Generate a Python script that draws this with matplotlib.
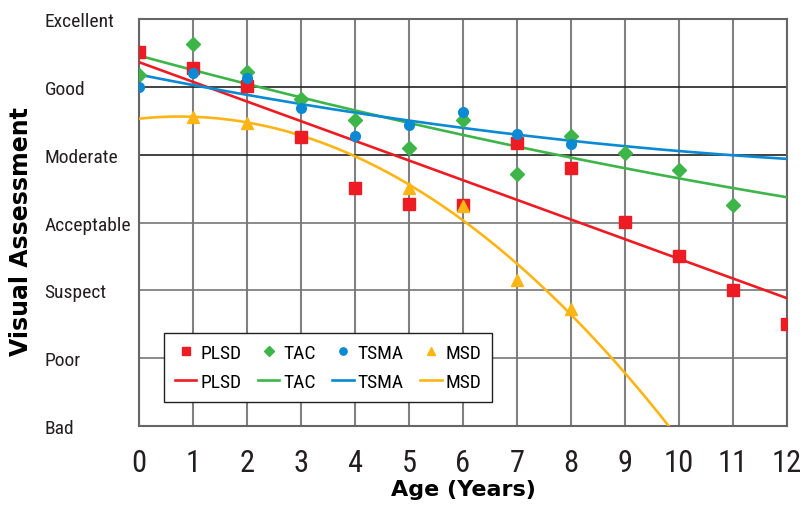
import numpy as np
from matplotlib import pyplot as plt
from matplotlib import font_manager

# ages (years) for each series
plsd_age = [0, 1, 2, 3, 4, 5, 6, 7, 8, 9, 10, 11, 12]
plsd_score = [5.52, 5.28, 5.01, 4.26, 3.51, 3.27, 3.26, 4.17, 3.81, 3.01, 2.51, 2.00, 1.50]

tac_age = [0, 1, 2, 3, 4, 5, 6, 7, 8, 9, 10, 11]
tac_score = [5.18, 5.63, 5.22, 4.82, 4.51, 4.10, 4.51, 3.72, 4.28, 4.03, 3.78, 3.26]

tsma_age = [0, 1, 2, 3, 4, 5, 6, 7, 8]
tsma_score = [5.00, 5.21, 5.13, 4.69, 4.28, 4.44, 4.63, 4.31, 4.16]

msd_age = [1, 2, 5, 6, 7, 8]
msd_score = [4.56, 4.47, 3.51, 3.24, 2.15, 1.73]

grades = ["Bad", "Poor", "Suspect", "Acceptable", "Moderate", "Good", "Excellent"]
ages = list(range(13))

# look for a condensed face, fall back to plain DejaVu
names = set(f.name for f in font_manager.fontManager.ttflist)
narrow_list = [n for n in ['Liberation Sans Narrow', 'Roboto Condensed', 'DejaVu Sans Condensed',
                           'Open Sans Condensed'] if n in names]
narrow = narrow_list + ['DejaVu Sans']

series = [
    ("PLSD", plsd_age, plsd_score, "#ED1C24", "s", 8, 1),
    ("TAC", tac_age, tac_score, "#3DB549", "D", 7, 2),
    ("TSMA", tsma_age, tsma_score, "#0A8AD2", "o", 7, 2),
    ("MSD", msd_age, msd_score, "#FDB515", "^", 8, 2),
]

fig = plt.figure(figsize=(8.11, 5.06), dpi=100)
ax = fig.add_axes([0.1714, 0.1561, 0.7990, 0.8044])

xx = np.linspace(0, 12, 300)
handles = []
for name, x, y, col, mk, ms, deg in series:
    # trend lines like the excel ones
    coef = np.polyfit(x, y, deg)
    ln, = ax.plot(xx, np.polyval(coef, xx), color=col, lw=1.9, zorder=3, label=name)
    pt, = ax.plot(x, y, ls='none', marker=mk, color=col, ms=ms, zorder=4, label=name)
    handles += [pt, ln]

ax.set_xlim(0, 12)
ax.set_ylim(0, 6)
ax.set_xticks(ages)
ax.set_yticks(range(len(grades)))
ax.set_yticklabels(grades)

for xv in ages:
    ax.axvline(xv, color='#808080', lw=1.5, zorder=1)
for yv in range(len(grades)):
    c = '#222222' if grades[yv] in ("Good", "Moderate") else '#777777'
    ax.axhline(yv, color=c, lw=1.2, zorder=1)
for s in ax.spines.values():
    s.set_color('#666666')
    s.set_linewidth(1.5)

ax.tick_params(axis='both', length=0)
ax.tick_params(axis='x', pad=16)
ax.tick_params(axis='y', pad=68)
for t in ax.get_xticklabels():
    t.set_family(narrow)
    t.set_stretch('condensed')
    t.set_fontsize(22)
    t.set_color('#231F20')
for t in ax.get_yticklabels():
    t.set_family(narrow)
    t.set_stretch('condensed')
    t.set_fontsize(14)
    t.set_ha('left')
    t.set_color('#231F20')

ax.set_xlabel("Age (Years)", fontsize=16, fontweight='heavy', labelpad=1)
ax.set_ylabel("Visual Assessment", fontsize=17, fontweight='heavy')
ax.yaxis.set_label_coords(-0.163, 0.48)

leg = ax.legend(handles=handles, ncol=4, loc='lower left', bbox_to_anchor=(0.039, 0.059),
                borderaxespad=0, fancybox=False, edgecolor='#231F20', framealpha=1,
                prop={'family': narrow, 'stretch': 'condensed', 'size': 14},
                handlelength=1.1, markerscale=0.75,
                handletextpad=0.2, columnspacing=0.85, borderpad=0.55, labelspacing=0.6)
leg.get_frame().set_linewidth(1.0)
leg.set_zorder(5)

fig.savefig("out.png", dpi=100)
